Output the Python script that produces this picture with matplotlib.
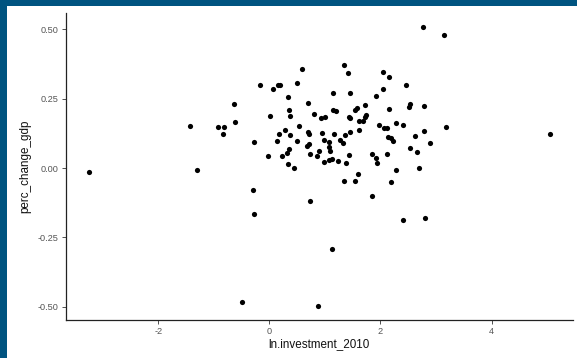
import matplotlib
matplotlib.use("Agg")
import matplotlib.pyplot as plt
from matplotlib.patches import Rectangle

plt.rcParams['font.family'] = ['Liberation Sans', 'DejaVu Sans']

ln_investment_2010 = [
    2.76, 3.15, 1.35, 1.42, 0.59, 2.04, 2.15, -0.17, 0.06, 0.16,
    0.19, 0.50, 2.46, 2.05, 0.34, 1.14, 1.46, 1.92, 0.70, 2.51,
    2.53, 2.79, 2.15, 1.73, 1.55, 1.58, 0.36, 0.38, 1.15, 1.20,
    0.01, 0.80, 0.93, 1.01, 1.44, 1.46, 1.74, 1.72, 1.61, 1.69,
    0.53, 0.28, 0.18, 0.37, 0.13, 0.49, -0.27, 0.70, 0.71, 0.94,
    1.16, 1.37, 1.46, 1.62, 1.98, 2.06, 2.12, 2.28, 2.41, 2.79,
    3.18, 2.62, 2.13, 2.19, 2.22, 2.90, 5.05, 0.98, 1.08, 1.28,
    1.33, 0.67, 0.71, 1.07, 1.10, 0.35, 0.32, -0.02, 0.23, 0.74,
    0.86, 0.89, 1.44, 1.84, 1.92, 1.94, 2.12, 2.53, 2.65, 0.34,
    0.44, 0.98, 1.07, 1.12, 1.24, 1.38, 2.28, 2.70, 1.59, 1.54,
    1.35, 2.19, -0.29, 1.85, 0.74, -0.28, 1.12, -0.50, 0.87, 2.40,
    2.81, -3.25, -1.43, -1.31, -0.92, -0.81, -0.84, -0.63, -0.61,
]
perc_change_gdp = [
    0.508, 0.480, 0.370, 0.342, 0.358, 0.344, 0.326, 0.300, 0.283, 0.299,
    0.298, 0.305, 0.299, 0.283, 0.256, 0.271, 0.269, 0.261, 0.233, 0.221,
    0.232, 0.224, 0.213, 0.227, 0.210, 0.215, 0.208, 0.189, 0.210, 0.207,
    0.189, 0.193, 0.180, 0.184, 0.184, 0.180, 0.191, 0.184, 0.170, 0.169,
    0.152, 0.136, 0.122, 0.119, 0.097, 0.099, 0.094, 0.128, 0.122, 0.127,
    0.124, 0.120, 0.130, 0.136, 0.156, 0.144, 0.144, 0.161, 0.155, 0.133,
    0.149, 0.116, 0.113, 0.109, 0.097, 0.091, 0.124, 0.102, 0.094, 0.101,
    0.090, 0.079, 0.085, 0.077, 0.062, 0.068, 0.055, 0.042, 0.042, 0.052,
    0.045, 0.062, 0.048, 0.049, 0.035, 0.017, 0.050, 0.071, 0.058, 0.014,
    0.001, 0.020, 0.030, 0.032, 0.026, 0.019, -0.006, 0.001, -0.023, -0.046,
    -0.046, -0.049, -0.079, -0.102, -0.118, -0.164, -0.292, -0.483, -0.497, -0.188,
    -0.180, -0.016, 0.150, -0.006, 0.146, 0.149, 0.123, 0.232, 0.167,
]
x_ticks = [-2, 0, 2, 4]
y_ticks = [-0.50, -0.25, 0.00, 0.25, 0.50]
y_tick_labels = ["-0.50", "-0.25", "0.00", "0.25", "0.50"]

W, H = 577, 358
fig = plt.figure(figsize=(W / 100, H / 100), dpi=100)
fig.patch.set_facecolor('white')

border = '#005480'
fig.patches.append(Rectangle((0, 0), 7 / W, 1, transform=fig.transFigure,
                             facecolor=border, edgecolor='none', zorder=0))
fig.patches.append(Rectangle((0, 1 - 6 / H), 1, 6 / H, transform=fig.transFigure,
                             facecolor=border, edgecolor='none', zorder=0))

ax = fig.add_axes([65.7 / W, (H - 320) / H, (573 - 65.7) / W, (320 - 13) / H])
ax.scatter(ln_investment_2010, perc_change_gdp, s=14, color='black',
           linewidths=0, zorder=3)

xmin, xmax = min(ln_investment_2010), max(ln_investment_2010)
ymin, ymax = min(perc_change_gdp), max(perc_change_gdp)
dx, dy = (xmax - xmin) * 0.05, (ymax - ymin) * 0.05
ax.set_xlim(xmin - dx, xmax + dx)
ax.set_ylim(ymin - dy, ymax + dy)

ax.set_xticks(x_ticks)
ax.set_xticklabels([str(t) for t in x_ticks])
ax.set_yticks(y_ticks)
ax.set_yticklabels(y_tick_labels)

for s in ['top', 'right']:
    ax.spines[s].set_visible(False)
for s in ['left', 'bottom']:
    ax.spines[s].set_color('#222222')
    ax.spines[s].set_linewidth(0.9)

ax.tick_params(axis='both', colors='#333333', labelcolor='#555555',
               labelsize=6.6, length=3, width=0.6, pad=2)
ax.set_xlabel('ln.investment_2010', fontsize=8.4, color='#111111', labelpad=1.5)
ax.set_ylabel('perc_change_gdp', fontsize=8.4, color='#111111', labelpad=5)

fig.savefig('out.png', dpi=100, facecolor=fig.get_facecolor())
